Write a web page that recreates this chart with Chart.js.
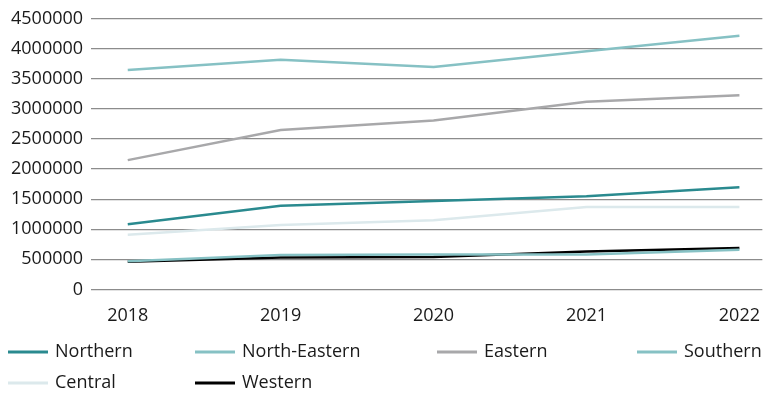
<!DOCTYPE html>
<html>
<head>
<meta charset="utf-8">
<script src="https://cdn.jsdelivr.net/npm/chart.js@4"></script>
<style>
  html, body { margin: 0; padding: 0; background: #fff; }
  #wrap { width: 768px; height: 394px; position: relative; }
</style>
</head>
<body>
<div id="wrap"><canvas id="chart"></canvas></div>
<script>
const years = [2018, 2019, 2020, 2021, 2022];
const northern = [1085000, 1390000, 1470000, 1550000, 1700000];
const northEastern = [470000, 570000, 580000, 580000, 660000];
const eastern = [2150000, 2650000, 2810000, 3120000, 3230000];
const southern = [3650000, 3820000, 3700000, 3960000, 4220000];
const central = [910000, 1070000, 1150000, 1370000, 1370000];
const western = [460000, 530000, 540000, 630000, 690000];
const yTicks = [0, 500000, 1000000, 1500000, 2000000, 2500000, 3000000, 3500000, 4000000, 4500000];

Chart.defaults.font.family = "'Open Sans', 'Noto Sans', sans-serif";
Chart.defaults.color = '#1a1a1a';

// legend slots: [x of line start, y centre] in reading order
const legendSlots = [[8, 352], [195, 352], [437, 352], [637, 352], [8, 383], [195, 383]];

const fixedLegend = {
    id: 'fixedLegend',
    afterDraw: function(chart) {
        const ctx = chart.ctx;
        ctx.save();
        ctx.font = "18px 'Open Sans', 'Noto Sans', sans-serif";
        ctx.textBaseline = 'middle';
        chart.data.datasets.forEach(function(ds, i) {
            const slot = legendSlots[i];
            ctx.strokeStyle = ds.borderColor;
            ctx.lineWidth = 3;
            ctx.beginPath();
            ctx.moveTo(slot[0], slot[1]);
            ctx.lineTo(slot[0] + 40, slot[1]);
            ctx.stroke();
            ctx.fillStyle = '#1a1a1a';
            ctx.fillText(ds.label, slot[0] + 47, slot[1]);
        });
        ctx.restore();
    }
};

function series(label, values, color) {
    return {
        label: label,
        data: values.map(function(v, i) { return { x: years[i], y: v }; }),
        borderColor: color,
        backgroundColor: color,
        borderWidth: 2.5,
        pointRadius: 0,
        tension: 0
    };
}

new Chart(document.getElementById('chart'), {
    type: 'line',
    data: {
        datasets: [
            series('Northern', northern, '#2a8a8f'),
            series('North-Eastern', northEastern, '#86c1c4'),
            series('Eastern', eastern, '#a8a8aa'),
            series('Southern', southern, '#86c1c4'),
            series('Central', central, '#dce9ec'),
            series('Western', western, '#000000')
        ]
    },
    plugins: [fixedLegend],
    options: {
        responsive: true,
        maintainAspectRatio: false,
        animation: false,
        layout: { padding: { left: 3, right: 0, top: 5, bottom: 59 } },
        plugins: {
            tooltip: { enabled: false },
            legend: { display: false }
        },
        scales: {
            x: {
                type: 'linear',
                min: 2017.76,
                max: 2022.15,
                grid: { display: false },
                border: { display: false },
                ticks: {
                    stepSize: 1,
                    includeBounds: false,
                    font: { size: 18 },
                    padding: 8,
                    callback: function(v) { return Number.isInteger(v) ? String(v) : null; }
                }
            },
            y: {
                min: 0,
                max: 4500000,
                afterBuildTicks: function(axis) {
                    axis.ticks = yTicks.map(function(v) { return { value: v }; });
                },
                grid: { color: '#8c8c8c', lineWidth: 1.3, drawTicks: false },
                border: { display: false },
                ticks: {
                    font: { size: 18 },
                    padding: 8,
                    callback: function(v) { return String(v); }
                }
            }
        }
    }
});
</script>
</body>
</html>
